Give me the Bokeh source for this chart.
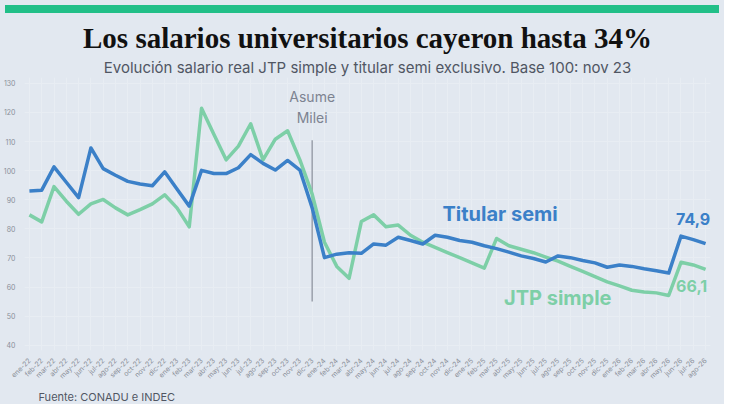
import math
from bokeh.plotting import figure
from bokeh.models import Title, FixedTicker, Range1d, Div
from bokeh.layouts import column
from bokeh.core.properties import value
from bokeh.embed import file_html
from bokeh.resources import INLINE

months = ["ene","feb","mar","abr","may","jun","jul","ago","sep","oct","nov","dic"]
labels = []
for yr in ["22","23","24","25","26"]:
    for m in months:
        labels.append(f"{m}-{yr}")
labels = labels[:56]

titular = [93, 93.3, 101.3, 96, 90.7, 107.8, 100.7, 98.4, 96.3, 95.4, 94.8, 99.6, 93.7, 87.8,
           100.1, 99, 99, 101, 105.5, 102.5, 100.2, 103.5, 100.2, 87.2, 70.1, 71.3, 71.8, 71.6,
           74.8, 74.4, 77.1, 76, 74.8, 77.8, 77.1, 76, 75.4, 74.2, 73.2, 72, 70.7, 69.8, 68.6,
           70.7, 70.1, 69.1, 68.3, 66.8, 67.6, 67.1, 66.3, 65.6, 64.8, 77.5, 76.3, 74.9]
jtp = [84.8, 82.4, 94.5, 89.5, 85, 88.6, 90.1, 87.2, 84.8, 86.6, 88.6, 91.7, 87.2, 80.7,
       121.4, 112.5, 103.7, 108.4, 116.1, 103.7, 110.8, 113.7, 103.7, 91.9, 75.4, 67.1, 63,
       82.5, 84.8, 80.7, 81.3, 77.8, 75.4, 73.6, 71.8, 70.1, 68.3, 66.5, 76.7, 74.2, 73, 71.8,
       70.3, 68.9, 67.1, 65.4, 63.6, 61.8, 60.4, 58.9, 58.3, 58, 57.1, 68.5, 67.6, 66.1]
y_ticks = [40, 50, 60, 70, 80, 90, 100, 110, 120, 130]
milei_x = [23]
milei_y0 = [55]
milei_y1 = [110.4]

BG = "#e2e8f0"
BLUE = "#3b80c8"
GREEN = "#7dcfa7"
x = list(range(len(labels)))

p = figure(width=714, height=386, output_backend="svg", toolbar_location=None,
           x_range=Range1d(-0.4, 55.4), y_range=Range1d(38.2, 132),
           background_fill_color=BG, border_fill_color=BG, outline_line_color=None,
           min_border_left=4, min_border_right=4, min_border_top=0, min_border_bottom=0)

p.title = Title(text="Los salarios universitarios cayeron hasta 34%", align="center",
                text_font="Liberation Serif", text_font_size="29px",
                text_font_style="bold", text_color="#111111", standoff=2)
p.add_layout(Title(text="Evolución salario real JTP simple y titular semi exclusivo. Base 100: nov 23",
                   align="center", text_font="Inter", text_font_size="15px",
                   text_font_style="normal", text_color="#505663", standoff=2), "above")
p.add_layout(Title(text="Fuente: CONADU e INDEC", align="left", text_font="Inter",
                   text_font_size="11px", text_font_style="normal", text_color="#505663",
                   offset=14, standoff=2), "below")

p.xaxis.ticker = FixedTicker(ticks=x)
p.xaxis.major_label_overrides = {i: l for i, l in enumerate(labels)}
p.xaxis.major_label_orientation = math.pi / 4
p.yaxis.ticker = FixedTicker(ticks=y_ticks)
for ax in (p.xaxis, p.yaxis):
    ax.axis_line_color = None
    ax.major_tick_line_color = None
    ax.minor_tick_line_color = None
    ax.major_label_text_font_size = "7px"
    ax.major_label_text_color = "#8a8f99"
    ax.major_label_text_font = "Inter"
    ax.major_label_standoff = 3
p.xgrid.grid_line_color = "#e8edf3"
p.ygrid.grid_line_color = "#e8edf3"

p.segment(x0=milei_x, y0=milei_y0, x1=milei_x, y1=milei_y1, line_color="#9aa0ab", line_width=1.5)
p.text(x=[23, 23], y=[125.6, 118.2], text=["Asume", "Milei"], text_align="center",
       text_baseline="middle", text_font=value("Inter"), text_font_size="14px", text_color="#7d8391")

p.line(x, jtp, line_color=GREEN, line_width=3.5, line_join="round")
p.line(x, titular, line_color=BLUE, line_width=3.5, line_join="round")

p.text(x=[33.6], y=[85], text=["Titular semi"], text_baseline="middle",
       text_font=value("Inter"), text_font_size="20px", text_font_style="bold", text_color=BLUE)
p.text(x=[38.6], y=[56.3], text=["JTP simple"], text_baseline="middle",
       text_font=value("Inter"), text_font_size="20px", text_font_style="bold", text_color=GREEN)
p.text(x=[52.6], y=[83.3], text=["74,9"], text_baseline="middle",
       text_font=value("Inter"), text_font_size="16px", text_font_style="bold", text_color=BLUE)
p.text(x=[52.6], y=[60.2], text=["66,1"], text_baseline="middle",
       text_font=value("Inter"), text_font_size="16px", text_font_style="bold", text_color=GREEN)

bar = Div(text="", width=714, height=8, styles={"background-color": "#21bf88"})
layout = column(bar, p, spacing=0, styles={"background-color": BG})
open("out.html", "w").write(file_html(layout, INLINE))
